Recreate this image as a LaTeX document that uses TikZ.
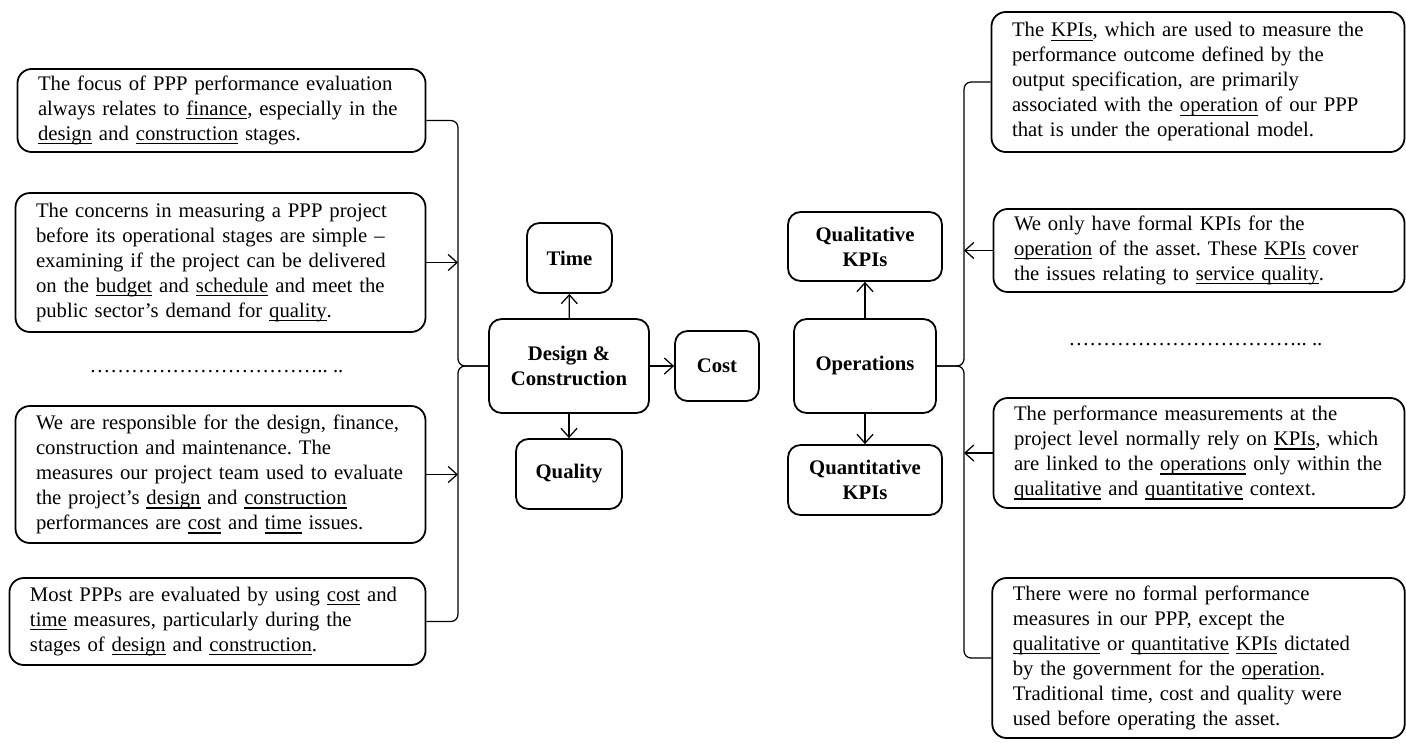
\documentclass[tikz,border=0pt]{standalone}
\usepackage{fontspec}
\setmainfont{Liberation Serif}
\usetikzlibrary{arrows.meta}
\frenchspacing
\newcommand{\uln}[1]{\leavevmode\setbox0\hbox{#1}\rlap{\rule[-2.2pt]{\wd0}{0.6pt}}\box0\relax}
\begin{document}
\begin{tikzpicture}[x=0.56pt,y=0.56pt,>={Straight Barb[length=5pt,width=9pt]}]
        \tikzstyle{quote}=[draw,line width=1pt,rounded corners=8pt,inner xsep=11.5pt,inner ysep=0pt,align=left,font=\fontsize{11.6}{14}\selectfont]
        \tikzstyle{block}=[draw,line width=1pt,rounded corners=7pt,inner sep=0pt,align=center,font=\fontsize{11.6}{14}\selectfont\bfseries]
        \tikzstyle{edge}=[draw,line width=0.7pt,->]
        \tikzstyle{brace}=[draw,line width=0.7pt,rounded corners=4pt]
        \tikzstyle{gap}=[inner sep=0pt,anchor=base,font=\fontsize{11.6}{14}\selectfont]
        \useasboundingbox (0,0) rectangle (1406,-742);
       \begin{scope}
         \node [quote,text width=205.5pt,minimum height=46.5pt] (l1) at (221.5,-110.5) {The focus of PPP performance evaluation\\ always relates to \uln{finance}, especially in the\\ \uln{design} and \uln{construction} stages.};
         \node [quote,text width=206.6pt,minimum height=77.8pt] (l2) at (220.5,-262.5) {The concerns in measuring a PPP project\\ before its operational stages are simple –\\ examining if the project can be delivered\\ on the \uln{budget} and \uln{schedule} and meet the\\ public sector’s demand for \uln{quality}.};
         \node [gap] (ldots) at (216.5,-372) {…………………………….. ..};
         \node [quote,text width=206.6pt,minimum height=76.7pt] (l3) at (220.5,-474.5) {We are responsible for the design, finance,\\ construction and maintenance. The\\ measures our project team used to evaluate\\ the project’s \uln{design} and \uln{construction}\\ performances are \uln{cost} and \uln{time} issues.};
         \node [quote,text width=210pt,minimum height=48.7pt] (l4) at (217.5,-621.5) {Most PPPs are evaluated by using \uln{cost} and\\ \uln{time} measures, particularly during the\\ stages of \uln{design} and \uln{construction}.};

         \node [block,minimum width=47.6pt,minimum height=39.2pt] (time) at (569.5,-258) {Time};
         \node [block,minimum width=89.6pt,minimum height=52.6pt] (dc) at (569,-366) {Design \&\\ Construction};
         \node [block,minimum width=47pt,minimum height=39.2pt] (cost) at (717,-366) {Cost};
         \node [block,minimum width=59.4pt,minimum height=39.2pt] (quality) at (569,-474) {Quality};

         \node [block,minimum width=86.2pt,minimum height=38.6pt] (qual) at (865,-246.5) {Qualitative\\ KPIs};
         \node [block,minimum width=79.5pt,minimum height=52.6pt] (ops) at (865,-366) {Operations};
         \node [block,minimum width=86.2pt,minimum height=39.2pt] (quant) at (865,-480) {Quantitative\\ KPIs};

         \node [quote,text width=208.3pt,minimum height=78.4pt] (r1) at (1198,-82) {The \uln{KPIs}, which are used to measure the\\ performance outcome defined by the\\ output specification, are primarily\\ associated with the \uln{operation} of our PPP\\ that is under the operational model.};
         \node [quote,text width=207.2pt,minimum height=46.5pt] (r2) at (1199,-250.5) {We only have formal KPIs for the\\ \uln{operation} of the asset. These \uln{KPIs} cover\\ the issues relating to \uln{service quality}.};
         \node [gap] (rdots) at (1195.5,-345) {…………………………….. ..};
         \node [quote,text width=207.2pt,minimum height=61.6pt] (r3) at (1199,-453) {The performance measurements at the\\ project level normally rely on \uln{KPIs}, which\\ are linked to the \uln{operations} only within the\\ \uln{qualitative} and \uln{quantitative} context.};
         \node [quote,text width=208pt,minimum height=89.6pt] (r4) at (1198.5,-658) {There were no formal performance\\ measures in our PPP, except the\\ \uln{qualitative} or \uln{quantitative} \uln{KPIs} dictated\\ by the government for the \uln{operation}.\\ Traditional time, cost and quality were\\ used before operating the asset.};

         \coordinate (lspine) at (458,-366);
         \coordinate (rspine) at (964,-366);

         \path[brace] ([yshift=-5.6pt]l1.east) -| (lspine) -- (dc.west);
         \path[brace] (dc.west) -- (lspine) |- (l4.east);
         \path[edge] (l2.east) -- (l2.east -| lspine);
         \path[edge] (l3.east) -- (l3.east -| lspine);

         \path[edge] (dc) edge (time);
         \path[edge] (dc) edge (cost);
         \path[edge] (dc) edge (quality);
         \path[edge] (ops) edge (qual);
         \path[edge] (ops) edge (quant);

         \path[brace] (r1.west) -| (rspine) -- (ops.east);
         \path[brace] (ops.east) -- (rspine) |- (r4.west);
         \path[edge] (r2.west) -- (r2.west -| rspine);
         \path[edge] (r3.west) -- (r3.west -| rspine);
        \end{scope}
      \end{tikzpicture}
\end{document}
